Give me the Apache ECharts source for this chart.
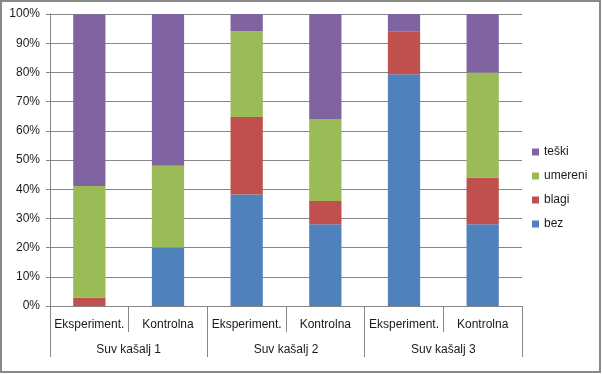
<!DOCTYPE html>
<html>
<head>
<meta charset="utf-8">
<script src="https://cdn.jsdelivr.net/npm/echarts@6/dist/echarts.min.js"></script>
<style>
html,body{margin:0;padding:0;background:#fff;}
#c{width:602px;height:374px;}
</style>
</head>
<body>
<div id="c"></div>
<script>
const categories = ['Eksperiment.', 'Kontrolna', 'Eksperiment.', 'Kontrolna', 'Eksperiment.', 'Kontrolna'];
const groups = ['Suv kašalj 1', 'Suv kašalj 2', 'Suv kašalj 3'];
const bez = [0, 20, 38.2, 28, 79.4, 28];
const blagi = [2.9, 0, 26.5, 8, 14.7, 16];
const umereni = [38.2, 28, 29.4, 28, 0, 36];
const teski = [58.8, 52, 5.9, 36, 5.9, 20];
const yTicks = [0, 10, 20, 30, 40, 50, 60, 70, 80, 90, 100];

const FONT = 'Liberation Sans';
const TXT = '#1a1a1a';
const GRID = '#868686';

const chart = echarts.init(document.getElementById('c'), null, {renderer: 'canvas'});
const mk = (name, data, color) => ({
  name, type: 'bar', stack: 'total', data, barCategoryGap: '59%',
  itemStyle: {color}, xAxisIndex: 0, yAxisIndex: 0
});
chart.setOption({
  animation: false,
  backgroundColor: '#fff',
  textStyle: {fontFamily: FONT},
  grid: {left: 50, right: 80, top: 14, bottom: 68, containLabel: false},
  legend: {
    orient: 'vertical', left: 527, top: 140,
    data: ['teški', 'umereni', 'blagi', 'bez'],
    itemWidth: 7, itemHeight: 7, itemGap: 10, icon: 'rect',
    textStyle: {fontFamily: FONT, fontSize: 12, color: TXT, lineHeight: 14}
  },
  xAxis: [
    {
      type: 'category', data: categories, position: 'bottom',
      axisLine: {show: true, lineStyle: {color: GRID, width: 1}},
      axisTick: {show: true, length: 26, lineStyle: {color: GRID}},
      axisLabel: {fontFamily: FONT, fontSize: 12, color: TXT, margin: 13, interval: 0}
    },
    {
      type: 'category', data: groups, position: 'bottom',
      axisLine: {show: false},
      axisTick: {show: true, length: 51, lineStyle: {color: GRID}},
      axisLabel: {fontFamily: FONT, fontSize: 12, color: TXT, margin: 38, interval: 0}
    }
  ],
  yAxis: {
    type: 'value', min: yTicks[0], max: yTicks[yTicks.length - 1], interval: 10,
    axisLine: {show: true, lineStyle: {color: GRID}},
    axisTick: {show: true, length: 4, lineStyle: {color: GRID}},
    splitLine: {show: true, lineStyle: {color: GRID}},
    axisLabel: {fontFamily: FONT, fontSize: 12, color: TXT, margin: 10, formatter: v => v + '%'}
  },
  graphic: [{
    type: 'rect', silent: true, z: 100,
    shape: {x: 1, y: 1, width: 599, height: 371},
    style: {fill: 'none', stroke: '#888888', lineWidth: 2}
  }],
  series: [
    mk('bez', bez, '#4F81BD'),
    mk('blagi', blagi, '#C0504D'),
    mk('umereni', umereni, '#9BBB59'),
    mk('teški', teski, '#8064A2')
  ]
});
</script>
</body>
</html>
